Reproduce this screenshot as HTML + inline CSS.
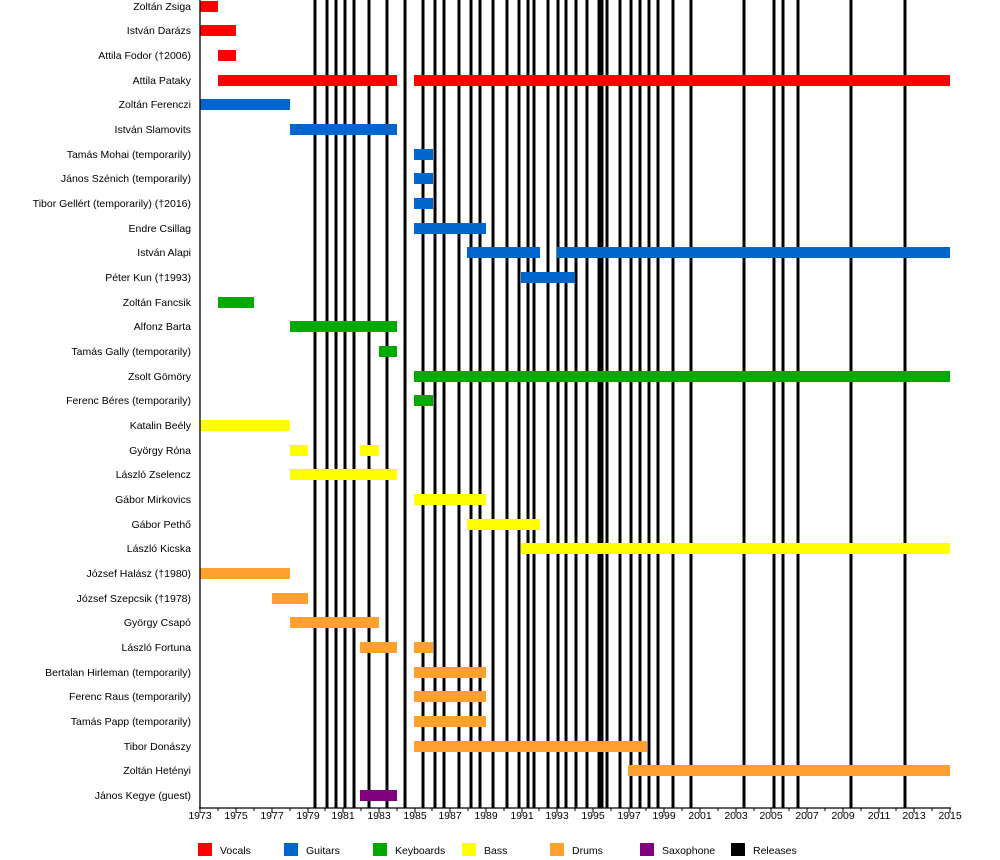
<!DOCTYPE html>
<html><head><meta charset="utf-8"><style>body{margin:0;background:#fff}svg{display:block;font-family:"Liberation Sans",Arial,sans-serif;font-size:10.5px}</style></head><body>
<svg width="1000" height="860" xmlns="http://www.w3.org/2000/svg">
<g id="lines" stroke="#000" stroke-width="3">
<line x1="315" y1="0" x2="315" y2="808"/><line x1="327" y1="0" x2="327" y2="808"/><line x1="336" y1="0" x2="336" y2="808"/><line x1="345" y1="0" x2="345" y2="808"/><line x1="354" y1="0" x2="354" y2="808"/><line x1="369" y1="0" x2="369" y2="808"/><line x1="387" y1="0" x2="387" y2="808"/><line x1="405" y1="0" x2="405" y2="808"/><line x1="423" y1="0" x2="423" y2="808"/><line x1="435" y1="0" x2="435" y2="808"/><line x1="444" y1="0" x2="444" y2="808"/><line x1="459" y1="0" x2="459" y2="808"/><line x1="471" y1="0" x2="471" y2="808"/><line x1="480" y1="0" x2="480" y2="808"/><line x1="493" y1="0" x2="493" y2="808"/><line x1="507" y1="0" x2="507" y2="808"/><line x1="519" y1="0" x2="519" y2="808"/><line x1="528" y1="0" x2="528" y2="808"/><line x1="534" y1="0" x2="534" y2="808"/><line x1="548" y1="0" x2="548" y2="808"/><line x1="558" y1="0" x2="558" y2="808"/><line x1="566" y1="0" x2="566" y2="808"/><line x1="576" y1="0" x2="576" y2="808"/><line x1="587" y1="0" x2="587" y2="808"/><line x1="599" y1="0" x2="599" y2="808"/><line x1="602" y1="0" x2="602" y2="808"/><line x1="607" y1="0" x2="607" y2="808"/><line x1="620" y1="0" x2="620" y2="808"/><line x1="631" y1="0" x2="631" y2="808"/><line x1="640" y1="0" x2="640" y2="808"/><line x1="649" y1="0" x2="649" y2="808"/><line x1="658" y1="0" x2="658" y2="808"/><line x1="673" y1="0" x2="673" y2="808"/><line x1="691" y1="0" x2="691" y2="808"/><line x1="744" y1="0" x2="744" y2="808"/><line x1="774" y1="0" x2="774" y2="808"/><line x1="783" y1="0" x2="783" y2="808"/><line x1="798" y1="0" x2="798" y2="808"/><line x1="851" y1="0" x2="851" y2="808"/><line x1="905" y1="0" x2="905" y2="808"/>
</g>
<g id="bars">
<rect x="200" y="1" width="18" height="11" fill="#f00"/>
<rect x="200" y="25" width="36" height="11" fill="#f00"/>
<rect x="218" y="50" width="18" height="11" fill="#f00"/>
<rect x="218" y="75" width="179" height="11" fill="#f00"/><rect x="414" y="75" width="536" height="11" fill="#f00"/>
<rect x="200" y="99" width="90" height="11" fill="#0066cc"/>
<rect x="290" y="124" width="107" height="11" fill="#0066cc"/>
<rect x="414" y="149" width="19" height="11" fill="#0066cc"/>
<rect x="414" y="173" width="19" height="11" fill="#0066cc"/>
<rect x="414" y="198" width="19" height="11" fill="#0066cc"/>
<rect x="414" y="223" width="72" height="11" fill="#0066cc"/>
<rect x="467" y="247" width="73" height="11" fill="#0066cc"/><rect x="557" y="247" width="393" height="11" fill="#0066cc"/>
<rect x="521" y="272" width="54" height="11" fill="#0066cc"/>
<rect x="218" y="297" width="36" height="11" fill="#00aa00"/>
<rect x="290" y="321" width="107" height="11" fill="#00aa00"/>
<rect x="379" y="346" width="18" height="11" fill="#00aa00"/>
<rect x="414" y="371" width="536" height="11" fill="#00aa00"/>
<rect x="414" y="395" width="19" height="11" fill="#00aa00"/>
<rect x="200" y="420" width="90" height="11" fill="#ff0"/>
<rect x="290" y="445" width="18" height="11" fill="#ff0"/><rect x="360" y="445" width="19" height="11" fill="#ff0"/>
<rect x="290" y="469" width="107" height="11" fill="#ff0"/>
<rect x="414" y="494" width="72" height="11" fill="#ff0"/>
<rect x="467" y="519" width="73" height="11" fill="#ff0"/>
<rect x="521" y="543" width="429" height="11" fill="#ff0"/>
<rect x="200" y="568" width="90" height="11" fill="#ffa030"/>
<rect x="272" y="593" width="36" height="11" fill="#ffa030"/>
<rect x="290" y="617" width="89" height="11" fill="#ffa030"/>
<rect x="360" y="642" width="37" height="11" fill="#ffa030"/><rect x="414" y="642" width="19" height="11" fill="#ffa030"/>
<rect x="414" y="667" width="72" height="11" fill="#ffa030"/>
<rect x="414" y="691" width="72" height="11" fill="#ffa030"/>
<rect x="414" y="716" width="72" height="11" fill="#ffa030"/>
<rect x="414" y="741" width="233" height="11" fill="#ffa030"/>
<rect x="628" y="765" width="322" height="11" fill="#ffa030"/>
<rect x="360" y="790" width="37" height="11" fill="#800080"/>
</g>
<g stroke="#000" stroke-width="1.3">
<line x1="200" y1="0" x2="200" y2="808"/><line x1="199" y1="808" x2="951" y2="808"/>
</g>
<g stroke="#000" stroke-width="1">
<path d="M200 808v5M218 808v3M236 808v5M254 808v3M272 808v5M290 808v3M308 808v5M325 808v3M343 808v5M361 808v3M379 808v5M397 808v3M415 808v5M432 808v3M450 808v5M468 808v3M486 808v5M504 808v3M522 808v5M539 808v3M557 808v5M575 808v3M593 808v5M611 808v3M629 808v5M646 808v3M664 808v5M682 808v3M700 808v5M718 808v3M736 808v5M754 808v3M771 808v5M789 808v3M807 808v5M825 808v3M843 808v5M861 808v3M879 808v5M896 808v3M914 808v5M932 808v3M950 808v5"/>
</g>
<g text-anchor="middle" fill="#000">
<text x="200" y="819">1973</text><text x="236" y="819">1975</text><text x="272" y="819">1977</text><text x="308" y="819">1979</text><text x="343" y="819">1981</text><text x="379" y="819">1983</text><text x="415" y="819">1985</text><text x="450" y="819">1987</text><text x="486" y="819">1989</text><text x="522" y="819">1991</text><text x="557" y="819">1993</text><text x="593" y="819">1995</text><text x="629" y="819">1997</text><text x="664" y="819">1999</text><text x="700" y="819">2001</text><text x="736" y="819">2003</text><text x="771" y="819">2005</text><text x="807" y="819">2007</text><text x="843" y="819">2009</text><text x="879" y="819">2011</text><text x="914" y="819">2013</text><text x="950" y="819">2015</text>
</g>
<g text-anchor="end" fill="#000">
<text x="191" y="10">Zoltán Zsiga</text>
<text x="191" y="34">István Darázs</text>
<text x="191" y="59">Attila Fodor (†2006)</text>
<text x="191" y="84">Attila Pataky</text>
<text x="191" y="108">Zoltán Ferenczi</text>
<text x="191" y="133">István Slamovits</text>
<text x="191" y="158">Tamás Mohai (temporarily)</text>
<text x="191" y="182">János Szénich (temporarily)</text>
<text x="191" y="207">Tibor Gellért (temporarily) (†2016)</text>
<text x="191" y="232">Endre Csillag</text>
<text x="191" y="256">István Alapi</text>
<text x="191" y="281">Péter Kun (†1993)</text>
<text x="191" y="306">Zoltán Fancsik</text>
<text x="191" y="330">Alfonz Barta</text>
<text x="191" y="355">Tamás Gally (temporarily)</text>
<text x="191" y="380">Zsolt Gömöry</text>
<text x="191" y="404">Ferenc Béres (temporarily)</text>
<text x="191" y="429">Katalin Beély</text>
<text x="191" y="454">György Róna</text>
<text x="191" y="478">László Zselencz</text>
<text x="191" y="503">Gábor Mirkovics</text>
<text x="191" y="528">Gábor Pethő</text>
<text x="191" y="552">László Kicska</text>
<text x="191" y="577">József Halász (†1980)</text>
<text x="191" y="602">József Szepcsik (†1978)</text>
<text x="191" y="626">György Csapó</text>
<text x="191" y="651">László Fortuna</text>
<text x="191" y="676">Bertalan Hirleman (temporarily)</text>
<text x="191" y="700">Ferenc Raus (temporarily)</text>
<text x="191" y="725">Tamás Papp (temporarily)</text>
<text x="191" y="750">Tibor Donászy</text>
<text x="191" y="774">Zoltán Hetényi</text>
<text x="191" y="799">János Kegye (guest)</text>
</g>
<g fill="#000">
<rect x="198" y="843" width="14" height="13" fill="#f00"/><text x="220" y="854">Vocals</text>
<rect x="284" y="843" width="14" height="13" fill="#0066cc"/><text x="306" y="854">Guitars</text>
<rect x="373" y="843" width="14" height="13" fill="#00aa00"/><text x="395" y="854">Keyboards</text>
<rect x="462" y="843" width="14" height="13" fill="#ff0"/><text x="484" y="854">Bass</text>
<rect x="550" y="843" width="14" height="13" fill="#ffa030"/><text x="572" y="854">Drums</text>
<rect x="640" y="843" width="14" height="13" fill="#800080"/><text x="662" y="854">Saxophone</text>
<rect x="731" y="843" width="14" height="13" fill="#000"/><text x="753" y="854">Releases</text>
</g>
</svg>
</body></html>
